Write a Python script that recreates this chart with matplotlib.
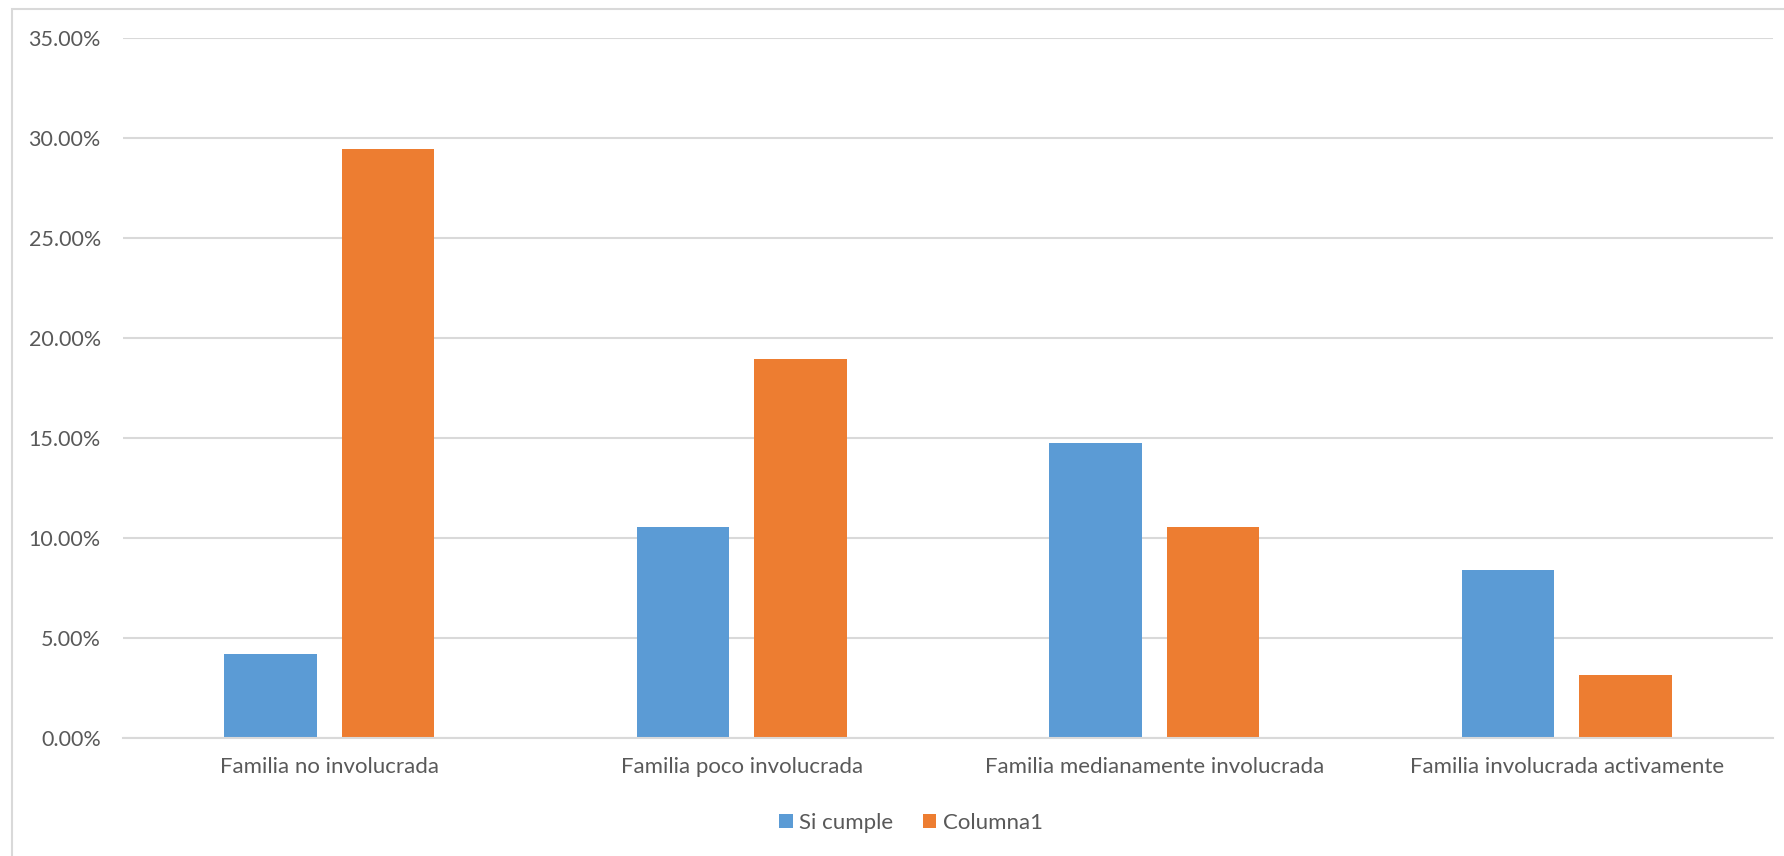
import numpy as np
import matplotlib
matplotlib.use("Agg")
import matplotlib.pyplot as plt
from matplotlib.patches import Rectangle
from matplotlib.ticker import FuncFormatter

categories = ["Familia no involucrada", "Familia poco involucrada",
              "Familia medianamente involucrada", "Familia involucrada activamente"]
si_cumple = [4.21, 10.53, 14.74, 8.42]
columna1 = [29.47, 18.95, 10.53, 3.16]
series_names = ["Si cumple", "Columna1"]
yticks = [0, 5, 10, 15, 20, 25, 30, 35]

BLUE = "#5B9BD5"
ORANGE = "#ED7D31"
GRID = "#D9D9D9"
TXT = "#595959"

plt.rcParams["font.family"] = ["Lato", "DejaVu Sans"]

fig = plt.figure(figsize=(17.84, 8.56), dpi=100)
ax = fig.add_axes([123 / 1784, 1 - 738 / 856, 1650 / 1784, 700 / 856])

x = np.arange(len(categories))
w = 0.224
off = 0.1425
ax.bar(x - off, si_cumple, w, color=BLUE, label=series_names[0], zorder=3)
ax.bar(x + off, columna1, w, color=ORANGE, label=series_names[1], zorder=3)

ax.set_xlim(-0.5, len(categories) - 0.5)
ax.set_ylim(0, 35)
ax.set_yticks(yticks)
ax.yaxis.set_major_formatter(FuncFormatter(lambda v, p: f"{v:.2f}%"))
ax.set_xticks(x)
ax.set_xticklabels(categories)
ax.tick_params(axis="both", length=0, colors=TXT)
ax.tick_params(axis="y", pad=16, labelsize=15.5)
ax.tick_params(axis="x", pad=14, labelsize=16)
ax.grid(axis="y", color=GRID, lw=1.5, zorder=0)
for s in ["top", "right", "left"]:
    ax.spines[s].set_visible(False)
ax.spines["bottom"].set_color(GRID)
ax.spines["bottom"].set_linewidth(1.5)
ax.spines["bottom"].set_zorder(4)

# chart area border (cut off at right and bottom)
fig.patches.append(Rectangle((12 / 1784, -0.1), 1.2, 1.1 - 9 / 856,
                             transform=fig.transFigure, fill=False,
                             edgecolor=GRID, lw=1.5))

fig.legend(loc="center", bbox_to_anchor=(911 / 1784, 1 - 823 / 856), ncol=2,
           frameon=False, fontsize=16, labelcolor=TXT,
           handlelength=0.6, handleheight=0.6, handletextpad=0.3,
           columnspacing=1.3)

fig.savefig("out.png", dpi=100)
